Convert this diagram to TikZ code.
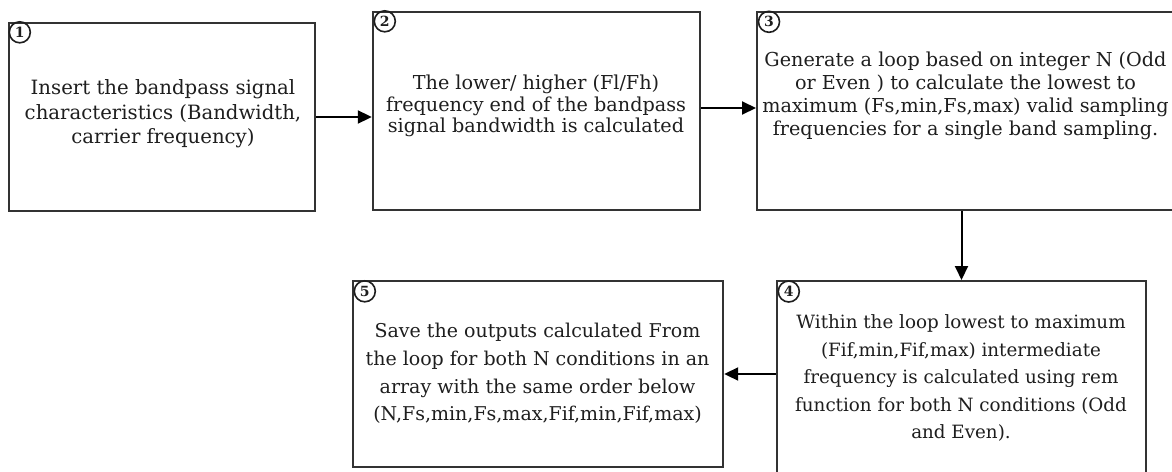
\documentclass[tikz,border=0pt]{standalone}
\usepackage{fontspec}
\setmainfont{DejaVu Serif}
\usetikzlibrary{arrows.meta}
\definecolor{edge}{HTML}{333333}
\definecolor{ink}{HTML}{1E1E1E}
\tikzset{
  stepbox/.style={draw=edge, line width=2.4pt, rectangle, inner sep=0pt},
  steptext/.style={text=ink, align=center, inner sep=0pt},
  badge/.style={draw=ink, line width=1.6pt, circle, minimum size=21pt, inner sep=0pt,
    font=\fontsize{14}{14}\selectfont\bfseries, text=ink},
  flow/.style={draw=black, line width=2pt, -{Triangle[length=14pt,width=13pt]}}
}
\begin{document}
\begin{tikzpicture}[x=1pt,y=-1pt]
\clip (0,0) rectangle (1172,471);
\fill[white] (0,0) rectangle (1172,471);

% process boxes
\node[stepbox, minimum width=306pt, minimum height=188pt] (b1) at (162,117) {};
\node[stepbox, minimum width=327pt, minimum height=198pt] (b2) at (536.5,111) {};
\node[stepbox, minimum width=440pt, minimum height=198pt, anchor=west] (b3) at (756,111) {};
\node[stepbox, minimum width=369pt, minimum height=230pt, anchor=north] (b4) at (961.5,280) {};
\node[stepbox, minimum width=370pt, minimum height=186pt] (b5) at (538,374) {};

% step numbers
\node[badge] (n1) at ([shift={(12,10.5)}]b1.north west) {1};
\node[badge] (n2) at ([shift={(13,10.5)}]b2.north west) {2};
\node[badge] (n3) at ([shift={(13,11)}]b3.north west) {3};
\node[badge] (n4) at ([shift={(13,11.5)}]b4.north west) {4};
\node[badge] (n5) at ([shift={(13,11.5)}]b5.north west) {5};

% step descriptions
\node[steptext, font=\fontsize{19.7}{24.5}\selectfont] (t1) at (163,114)
  {Insert the bandpass signal\\characteristics (Bandwidth,\\carrier frequency)};
\node[steptext, font=\fontsize{19.2}{21.5}\selectfont] (t2) at (536,106)
  {The lower/ higher (Fl/Fh)\\frequency end of the bandpass\\signal bandwidth is calculated};
\node[steptext, font=\fontsize{19.2}{23}\selectfont] (t3) at (965.5,96)
  {Generate a loop based on integer N (Odd\\or Even ) to calculate the lowest to\\maximum (Fs,min,Fs,max) valid sampling\\frequencies for a single band sampling.};
\node[steptext, font=\fontsize{18.3}{27.5}\selectfont] (t4) at (961,378)
  {Within the loop lowest to maximum\\(Fif,min,Fif,max) intermediate\\frequency is calculated using rem\\function for both N conditions (Odd\\and Even).};
\node[steptext, font=\fontsize{19}{27.7}\selectfont] (t5) at (537.5,373.5)
  {Save the outputs calculated From\\the loop for both N conditions in an\\array with the same order below\\(N,Fs,min,Fs,max,Fif,min,Fif,max)};

% connectors
\draw[flow] (b1.east) -- (b1.east -| b2.west);
\draw[flow] (b2.east |- 0,108) -- (b3.west |- 0,108);
\draw[flow] (b3.south -| b4.north) -- (b4.north);
\draw[flow] (b4.west |- b5.east) -- (b5.east);
\end{tikzpicture}
\end{document}
